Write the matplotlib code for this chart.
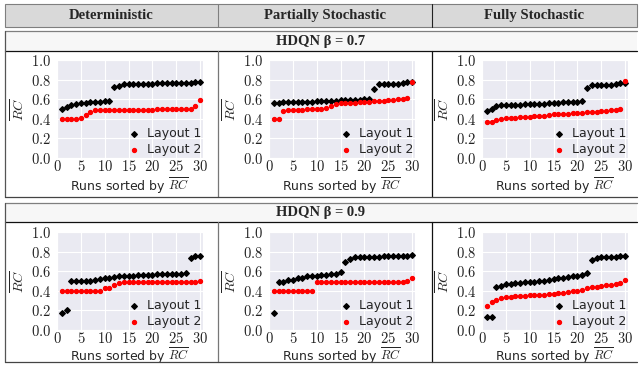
import numpy as np
import matplotlib
matplotlib.use("Agg")
import matplotlib.pyplot as plt
import seaborn as sns
from matplotlib.patches import Rectangle
from matplotlib.lines import Line2D
from matplotlib.ticker import FuncFormatter

sns.set_style("darkgrid")
plt.rcParams['font.family'] = ['DejaVu Sans']
plt.rcParams['mathtext.fontset'] = 'cm'

# column / row headers
columns = ['Deterministic', 'Partially Stochastic', 'Fully Stochastic']
rows = ['HDQN β = 0.7', 'HDQN β = 0.9']
runs = np.arange(1, 31)

# beta = 0.7
det_07_l1 = [0.50, 0.52, 0.54, 0.55, 0.56, 0.56, 0.57, 0.57, 0.57, 0.58, 0.58, 0.72, 0.73, 0.76, 0.76,
             0.76, 0.76, 0.76, 0.76, 0.76, 0.77, 0.77, 0.77, 0.77, 0.77, 0.77, 0.77, 0.77, 0.78, 0.78]
det_07_l2 = [0.40, 0.40, 0.40, 0.40, 0.41, 0.44, 0.47, 0.49, 0.49, 0.49, 0.49, 0.49, 0.49, 0.49, 0.49,
             0.49, 0.49, 0.49, 0.49, 0.49, 0.50, 0.50, 0.50, 0.50, 0.50, 0.50, 0.50, 0.50, 0.53, 0.59]
part_07_l1 = [0.56, 0.56, 0.57, 0.57, 0.57, 0.57, 0.57, 0.57, 0.57, 0.58, 0.58, 0.58, 0.58, 0.58, 0.59,
              0.59, 0.59, 0.59, 0.59, 0.60, 0.60, 0.70, 0.76, 0.76, 0.76, 0.76, 0.76, 0.77, 0.78, 0.78]
part_07_l2 = [0.40, 0.40, 0.48, 0.49, 0.49, 0.49, 0.49, 0.50, 0.50, 0.50, 0.50, 0.51, 0.53, 0.55, 0.56,
              0.56, 0.56, 0.56, 0.57, 0.57, 0.57, 0.58, 0.58, 0.58, 0.59, 0.59, 0.60, 0.60, 0.61, 0.78]
full_07_l1 = [0.48, 0.50, 0.53, 0.54, 0.54, 0.54, 0.54, 0.54, 0.55, 0.55, 0.55, 0.55, 0.55, 0.56, 0.56,
              0.56, 0.57, 0.57, 0.57, 0.57, 0.58, 0.71, 0.74, 0.75, 0.75, 0.75, 0.75, 0.76, 0.77, 0.77]
full_07_l2 = [0.37, 0.37, 0.39, 0.40, 0.41, 0.41, 0.41, 0.42, 0.42, 0.42, 0.43, 0.43, 0.43, 0.44, 0.45,
              0.45, 0.45, 0.45, 0.46, 0.46, 0.46, 0.47, 0.47, 0.47, 0.48, 0.48, 0.49, 0.49, 0.50, 0.79]

# beta = 0.9
det_09_l1 = [0.17, 0.20, 0.50, 0.50, 0.50, 0.50, 0.50, 0.51, 0.52, 0.53, 0.53, 0.54, 0.55, 0.55, 0.55,
             0.55, 0.56, 0.56, 0.56, 0.56, 0.57, 0.57, 0.57, 0.57, 0.57, 0.57, 0.58, 0.73, 0.76, 0.76]
det_09_l2 = [0.40, 0.40, 0.40, 0.40, 0.40, 0.40, 0.40, 0.40, 0.40, 0.43, 0.43, 0.46, 0.48, 0.49, 0.49,
             0.49, 0.49, 0.49, 0.49, 0.49, 0.49, 0.49, 0.49, 0.49, 0.49, 0.49, 0.49, 0.49, 0.49, 0.50]
part_09_l1 = [0.17, 0.49, 0.49, 0.51, 0.51, 0.53, 0.53, 0.55, 0.55, 0.55, 0.56, 0.56, 0.57, 0.57, 0.59,
              0.69, 0.72, 0.74, 0.74, 0.74, 0.75, 0.75, 0.75, 0.76, 0.76, 0.76, 0.76, 0.76, 0.76, 0.77]
part_09_l2 = [0.40, 0.40, 0.40, 0.40, 0.40, 0.40, 0.40, 0.40, 0.40, 0.49, 0.49, 0.49, 0.49, 0.49, 0.49,
              0.49, 0.49, 0.49, 0.49, 0.49, 0.49, 0.49, 0.49, 0.49, 0.49, 0.49, 0.49, 0.49, 0.50, 0.53]
full_09_l1 = [0.13, 0.13, 0.44, 0.45, 0.47, 0.47, 0.48, 0.48, 0.49, 0.49, 0.49, 0.50, 0.50, 0.51, 0.52,
              0.53, 0.53, 0.54, 0.55, 0.55, 0.56, 0.58, 0.71, 0.73, 0.74, 0.75, 0.75, 0.75, 0.76, 0.76]
full_09_l2 = [0.24, 0.29, 0.31, 0.33, 0.34, 0.34, 0.35, 0.35, 0.35, 0.36, 0.36, 0.36, 0.36, 0.37, 0.37,
              0.38, 0.38, 0.39, 0.40, 0.40, 0.41, 0.43, 0.44, 0.44, 0.45, 0.46, 0.46, 0.47, 0.48, 0.51]

panels = [[(det_07_l1, det_07_l2), (part_07_l1, part_07_l2), (full_07_l1, full_07_l2)],
          [(det_09_l1, det_09_l2), (part_09_l1, part_09_l2), (full_09_l1, full_09_l2)]]

W, H = 640, 366
fig = plt.figure(figsize=(W / 100, H / 100), dpi=100)
fig.patch.set_facecolor('white')


def rect(x0, y0, x1, y1, fc, ec='none', lw=0.0):
    fig.add_artist(Rectangle((x0 / W, 1 - y1 / H), (x1 - x0) / W, (y1 - y0) / H,
                             transform=fig.transFigure, facecolor=fc, edgecolor=ec, linewidth=lw))


def line(x0, y0, x1, y1, color, lw=1.0):
    fig.add_artist(Line2D([x0 / W, x1 / W], [1 - y0 / H, 1 - y1 / H],
                          transform=fig.transFigure, color=color, linewidth=lw))


left_x, right_x = 5, 637
col_edges = [5, 218, 432, 637]
serif = ['Liberation Serif', 'DejaVu Serif']

# header row
rect(left_x, 4, right_x, 27, '#d9d9d9', '#7f7f7f', 0.8)
for i, name in enumerate(columns):
    cx = (col_edges[i] + col_edges[i + 1]) / 2
    fig.text(cx / W, 1 - 15.5 / H, name, ha='center', va='center', fontsize=10.5,
             fontweight='bold', family=serif)
line(col_edges[1], 4, col_edges[1], 27, '#7f7f7f', 0.8)
line(col_edges[2], 4, col_edges[2], 27, '#222222', 0.8)

# row bands and plot boxes
bands = [(31, 51, 197), (203, 222, 362)]
for r, (bt, bb, box_bottom) in enumerate(bands):
    rect(left_x, bt, right_x, bb, '#f7f7f7')
    line(left_x, bt, right_x, bt, '#7f7f7f', 0.9)
    line(left_x, bb, right_x, bb, '#111111', 0.9)
    line(left_x, bt, left_x, box_bottom, '#555555', 0.9)
    line(col_edges[1], bb, col_edges[1], box_bottom, '#777777', 0.9)
    line(col_edges[2], bb, col_edges[2], box_bottom, '#111111', 0.9)
    line(left_x, box_bottom, right_x, box_bottom, '#444444', 0.9)
    fig.text((left_x + right_x) / 2 / W, 1 - (bt + bb) / 2 / H, rows[r], ha='center', va='center',
             fontsize=10.5, fontweight='bold', family=serif)

ax_lefts = [57, 269, 482]
ax_tops = [60, 232]
ax_w, ax_h = 146, 98
label_y = [-0.18, -0.16]

fmt_y = FuncFormatter(lambda v, p: r'$%.1f$' % v)
fmt_x = FuncFormatter(lambda v, p: r'$%d$' % v)

for r in range(2):
    for c in range(3):
        l1, l2 = panels[r][c]
        ax = fig.add_axes([ax_lefts[c] / W, 1 - (ax_tops[r] + ax_h) / H, ax_w / W, ax_h / H])
        ax.scatter(runs, l1, marker='D', s=8, color='black', label='Layout 1', zorder=3)
        ax.scatter(runs, l2, marker='o', s=8, color='red', label='Layout 2', zorder=3)
        ax.set_xlim(0, 30.6)
        ax.set_ylim(0, 1.0)
        ax.set_xticks([0, 5, 10, 15, 20, 25, 30])
        ax.set_yticks([0.0, 0.2, 0.4, 0.6, 0.8, 1.0])
        ax.xaxis.set_major_formatter(fmt_x)
        ax.yaxis.set_major_formatter(fmt_y)
        ax.tick_params(length=0, labelsize=10.5, colors='#222222')
        ax.tick_params(axis='x', pad=1)
        ax.tick_params(axis='y', pad=4)
        ax.set_xlabel(r'Runs sorted by $\overline{RC}$', fontsize=9)
        ax.xaxis.set_label_coords(0.5, label_y[r])
        ax.set_ylabel(r'$\overline{RC}$', fontsize=10)
        ax.yaxis.set_label_coords(-0.2, 0.5)
        ax.legend(loc='lower right', frameon=False, fontsize=9, handletextpad=0.05,
                  borderaxespad=0.0, borderpad=0.15, labelspacing=0.25, markerscale=1.0)

fig.savefig('out.png', dpi=100)
